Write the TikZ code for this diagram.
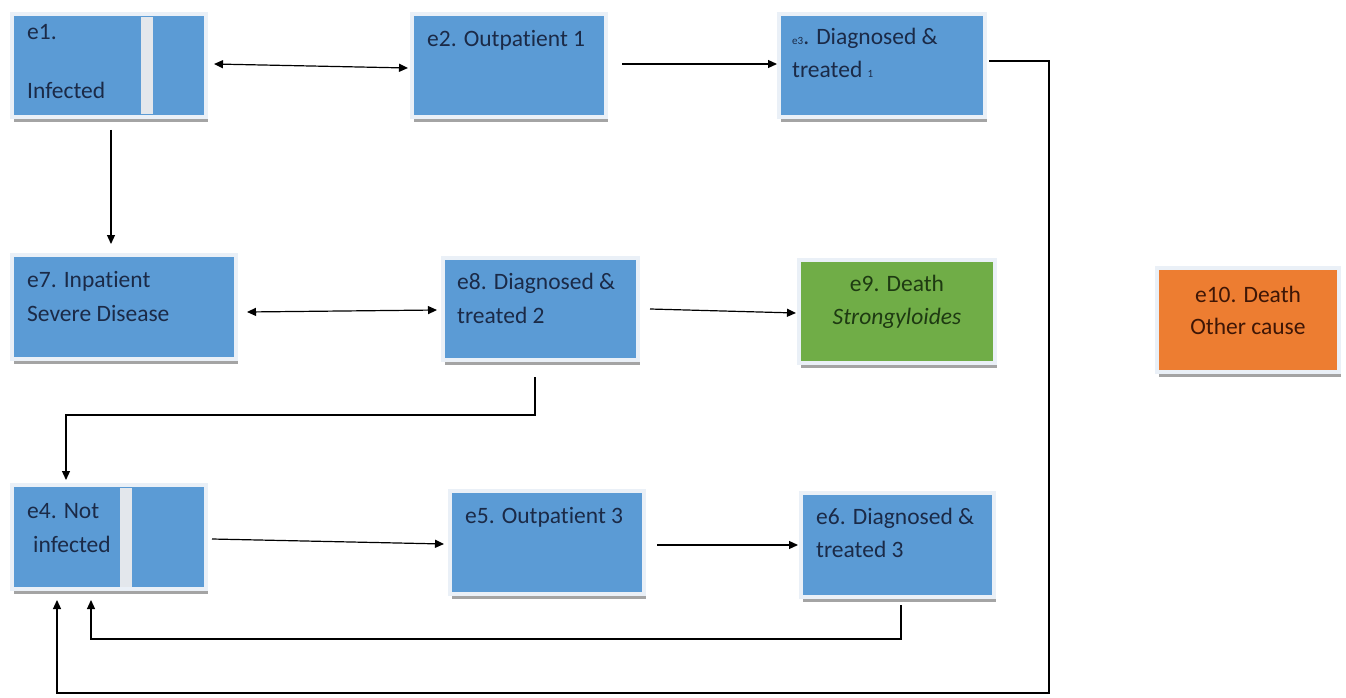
\documentclass[tikz,border=0pt]{standalone}
\usepackage{fontspec}
\setmainfont{Carlito}[Ligatures=NoCommon]
\usetikzlibrary{arrows.meta,shadows,calc}
\definecolor{boxblue}{HTML}{5B9BD5}
\definecolor{boxgreen}{HTML}{70AD47}
\definecolor{boxorange}{HTML}{ED7D31}
\definecolor{framec}{HTML}{EAF0F7}
\definecolor{shadowc}{HTML}{A4A4A4}
\definecolor{barc}{HTML}{E3E7EC}
\definecolor{txtblue}{HTML}{1B2A47}
\definecolor{txtgreen}{HTML}{1E3A12}
\definecolor{txtorange}{HTML}{3E1606}
\tikzset{
  box/.style={draw=framec, line width=4pt, fill=boxblue, inner sep=0pt,
    drop shadow={shadow xshift=1.5pt, shadow yshift=-5pt, fill=shadowc, opacity=1}},
  lbl/.style={inner sep=0pt, anchor=base west, text=txtblue,
    font=\fontsize{23.5}{28}\selectfont},
  clbl/.style={inner sep=0pt, anchor=base,
    font=\fontsize{23.5}{28}\selectfont},
  arr/.style={line width=1.2pt, -{Triangle[length=9pt,width=8pt]}},
  darr/.style={line width=1.2pt, {Triangle[length=9pt,width=8pt]}-{Triangle[length=9pt,width=8pt]}},
  bar/.style={fill=barc, draw=none}
}
\begin{document}
\begin{tikzpicture}[x=1pt,y=-1pt]
\useasboundingbox (0,0) rectangle (1346,698);
\fill[white] (0,0) rectangle (1346,698);
% boxes
\node[box, minimum width=194pt, minimum height=103pt] (e1) at (109,65.5) {};
\node[box, minimum width=194pt, minimum height=103pt] (e2) at (509,65.5) {};
\node[box, minimum width=206pt, minimum height=103pt] (e3) at (882,65.5) {};
\node[box, minimum width=224pt, minimum height=104pt] (e7) at (124,307) {};
\node[box, minimum width=195pt, minimum height=102pt] (e8) at (540.5,309) {};
\node[box, fill=boxgreen, minimum width=196pt, minimum height=103pt] (e9) at (897,311.5) {};
\node[box, fill=boxorange, minimum width=182pt, minimum height=104pt] (e10) at (1248,320) {};
\node[box, minimum width=194pt, minimum height=104pt] (e4) at (109,537) {};
\node[box, minimum width=194pt, minimum height=103pt] (e5) at (547,542.5) {};
\node[box, minimum width=193pt, minimum height=104pt] (e6) at (897.5,545) {};
% light bars
\fill[bar] (141,17) rectangle (153,114);
\fill[bar] (120,488) rectangle (132,587);
% labels
\node[lbl] (t1a) at (27,40) {e1.};
\node[lbl] (t1b) at (27,99) {Infected};
\node[lbl] (t2) at (427,47) {e2. Outpatient 1};
\node[lbl] (t3a) at (792,45) {{\fontsize{11}{12}\selectfont e3}. Diagnosed \&};
\node[lbl] (t3b) at (792,78) {treated {\fontsize{11}{12}\selectfont 1}};
\node[lbl] (t7a) at (27,287) {e7. Inpatient};
\node[lbl] (t7b) at (27,321) {Severe Disease};
\node[lbl] (t8a) at (457,289) {e8. Diagnosed \&};
\node[lbl] (t8b) at (457,323) {treated 2};
\node[clbl, text=txtgreen] (t9a) at (897,291) {e9. Death};
\node[clbl, text=txtgreen] (t9b) at (897,324) {\textit{Strongyloides}};
\node[clbl, text=txtorange] (t10a) at (1248,302) {e10. Death};
\node[clbl, text=txtorange] (t10b) at (1248,334) {Other cause};
\node[lbl] (t4a) at (27,518) {e4. Not};
\node[lbl] (t4b) at (33,552) {infected};
\node[lbl] (t5) at (465,523) {e5. Outpatient 3};
\node[lbl] (t6a) at (816,524) {e6. Diagnosed \&};
\node[lbl] (t6b) at (816,557) {treated 3};
% connectors
\draw[darr] ([xshift=6pt,yshift=1.5pt]e1.east) -- ([xshift=-2pt,yshift=-2.5pt]e2.west);
\draw[arr] ([xshift=14pt,yshift=1.5pt]e2.east) -- ([xshift=0pt,yshift=1.5pt]e3.west);
\draw[arr] ([xshift=2pt,yshift=4.5pt]e3.east) -| (1049,693) -| ([xshift=-52pt,yshift=-9pt]e4.south);
\draw[arr] ([xshift=2pt,yshift=-11pt]e1.south) -- ([xshift=-13pt,yshift=9pt]e7.north);
\draw[darr] ([xshift=9pt,yshift=-5pt]e7.east) -- ([xshift=-4pt,yshift=-1pt]e8.west);
\draw[arr] ([xshift=10pt]e8.east) -- ([xshift=-1pt,yshift=-1.5pt]e9.west);
\draw[arr] ([xshift=-5.5pt,yshift=-15pt]e8.south) -- ++(0,38) -| ([xshift=-43pt,yshift=3pt]e4.north);
\draw[arr] ([xshift=4pt,yshift=-2pt]e4.east) -- ([xshift=-4pt,yshift=-1.5pt]e5.west);
\draw[arr] ([xshift=11pt,yshift=-2.5pt]e5.east) -- ([xshift=-1pt]e6.west);
\draw[arr] ([xshift=3.5pt,yshift=-6pt]e6.south) -- ++(0,34) -| ([xshift=-18pt,yshift=-9pt]e4.south);
\end{tikzpicture}
\end{document}
